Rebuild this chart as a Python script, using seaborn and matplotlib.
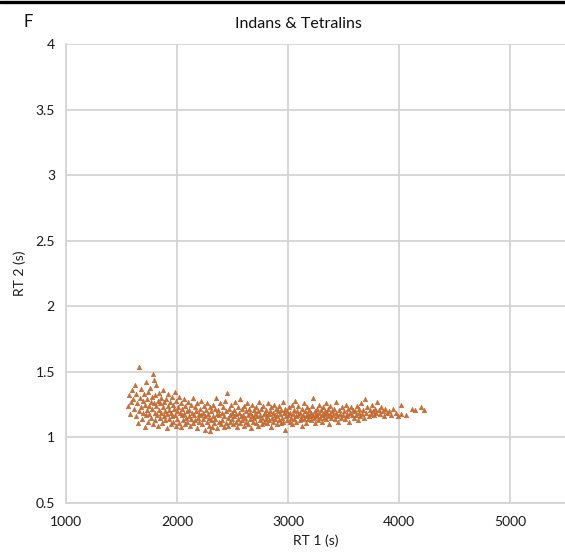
import matplotlib
matplotlib.use("Agg")
import matplotlib.pyplot as plt
from matplotlib.lines import Line2D
import seaborn as sns
import pandas as pd

title = "Indans & Tetralins"
panel_label = "F"
x_label = "RT 1 (s)"
y_label = "RT 2 (s)"
x_ticks = [1000, 2000, 3000, 4000, 5000]
y_ticks = [0.5, 1, 1.5, 2, 2.5, 3, 3.5, 4]
y_tick_labels = ["0.5", "1", "1.5", "2", "2.5", "3", "3.5", "4"]

rt1 = [
    1560, 1570, 1580, 1590, 1595,
    1605, 1612, 1620, 1628, 1635, 1642, 1650, 1655, 1660, 1665, 1672, 1678, 1684, 1690, 1695,
    1702, 1708, 1712, 1718, 1722, 1728, 1733, 1738, 1742, 1748, 1752, 1758, 1762, 1768, 1772, 1776, 1782, 1786, 1790, 1794, 1798,
    1802, 1806, 1810, 1815, 1820, 1826, 1830, 1836, 1840, 1846, 1850, 1856, 1860, 1866, 1870, 1876, 1880, 1886, 1890, 1896,
    1902, 1908, 1912, 1918, 1922, 1928, 1932, 1938, 1942, 1948, 1952, 1958, 1962, 1968, 1972, 1978, 1982, 1988, 1992, 1998,
    2004, 2010, 2016, 2020, 2026, 2032, 2038, 2042, 2048, 2054, 2060, 2066, 2070, 2076, 2082, 2088, 2094, 2098,
    2104, 2110, 2116, 2122, 2128, 2134, 2140, 2146, 2152, 2158, 2164, 2170, 2176, 2182, 2188, 2194,
    2202, 2208, 2214, 2220, 2226, 2232, 2238, 2244, 2250, 2256, 2262, 2268, 2274, 2280, 2286, 2292, 2298, 2296,
    2304, 2310, 2316, 2322, 2328, 2334, 2340, 2346, 2352, 2358, 2364, 2370, 2376, 2382, 2388, 2394,
    2402, 2408, 2414, 2420, 2426, 2432, 2438, 2444, 2450, 2456, 2462, 2468, 2474, 2480, 2486, 2492, 2498,
    2504, 2510, 2516, 2522, 2528, 2534, 2540, 2546, 2552, 2558, 2564, 2570, 2576, 2582, 2588, 2594,
    2602, 2608, 2614, 2620, 2626, 2632, 2638, 2644, 2650, 2656, 2662, 2668, 2674, 2680, 2686, 2692, 2698,
    2702, 2708, 2714, 2720, 2726, 2732, 2738, 2744, 2750, 2756, 2762, 2768, 2774, 2780, 2786, 2792, 2798,
    2802, 2808, 2814, 2820, 2826, 2832, 2838, 2844, 2850, 2856, 2862, 2868, 2874, 2880, 2886, 2892, 2898,
    2904, 2910, 2916, 2922, 2928, 2934, 2940, 2946, 2952, 2958, 2964, 2970, 2976, 2982, 2988, 2994,
    3004, 3010, 3016, 3022, 3028, 3034, 3040, 3046, 3052, 3058, 3064, 3070, 3076, 3082, 3088, 3094,
    3104, 3110, 3116, 3122, 3128, 3134, 3140, 3146, 3152, 3158, 3164, 3170, 3176, 3182, 3188, 3194,
    3204, 3210, 3216, 3222, 3228, 3234, 3240, 3246, 3252, 3258, 3264, 3270, 3276, 3282, 3288, 3294,
    3304, 3310, 3316, 3322, 3328, 3334, 3340, 3346, 3352, 3358, 3364, 3370, 3376, 3382, 3388, 3394,
    3404, 3412, 3420, 3428, 3436, 3444, 3452, 3460, 3468, 3476, 3484, 3492,
    3504, 3512, 3520, 3528, 3536, 3544, 3552, 3560, 3568, 3576, 3584, 3592,
    3604, 3612, 3620, 3628, 3636, 3644, 3652, 3660, 3668, 3676, 3684, 3692,
    3706, 3716, 3726, 3736, 3746, 3756, 3766, 3776, 3786, 3796,
    3806, 3818, 3830, 3842, 3854, 3866, 3878, 3890,
    3910, 3930, 3950, 3970, 3990,
    4015, 4022, 4060, 4115, 4145, 4195, 4222,
]

rt2 = [
    1.24, 1.32, 1.18, 1.27, 1.36,
    1.29, 1.22, 1.40, 1.16, 1.33, 1.26, 1.11, 1.20, 1.54, 1.30, 1.23, 1.37, 1.14, 1.28, 1.19,
    1.33, 1.08, 1.25, 1.42, 1.17, 1.29, 1.21, 1.12, 1.35, 1.24, 1.18, 1.38, 1.27, 1.15, 1.31, 1.22, 1.48, 1.10, 1.44, 1.26, 1.19,
    1.32, 1.13, 1.24, 1.40, 1.17, 1.28, 1.09, 1.21, 1.34, 1.15, 1.26, 1.19, 1.30, 1.11, 1.23, 1.36, 1.16, 1.27, 1.20, 1.13,
    1.29, 1.18, 1.07, 1.24, 1.33, 1.14, 1.21, 1.27, 1.10, 1.19, 1.31, 1.16, 1.25, 1.12, 1.22, 1.35, 1.17, 1.09, 1.28, 1.20,
    1.14, 1.23, 1.31, 1.11, 1.19, 1.26, 1.08, 1.17, 1.22, 1.13, 1.29, 1.18, 1.10, 1.24, 1.15, 1.20, 1.12, 1.27,
    1.16, 1.21, 1.09, 1.25, 1.14, 1.19, 1.30, 1.11, 1.17, 1.23, 1.13, 1.20, 1.07, 1.26, 1.15, 1.18,
    1.12, 1.22, 1.17, 1.28, 1.10, 1.19, 1.14, 1.24, 1.06, 1.16, 1.21, 1.12, 1.26, 1.18, 1.09, 1.15, 1.23, 1.05,
    1.13, 1.20, 1.08, 1.25, 1.16, 1.11, 1.22, 1.14, 1.30, 1.18, 1.07, 1.21, 1.12, 1.17, 1.26, 1.10,
    1.19, 1.13, 1.23, 1.08, 1.16, 1.28, 1.11, 1.20, 1.34, 1.15, 1.09, 1.22, 1.17, 1.12, 1.25, 1.14, 1.19,
    1.10, 1.21, 1.16, 1.27, 1.12, 1.18, 1.08, 1.23, 1.14, 1.19, 1.29, 1.11, 1.16, 1.22, 1.13, 1.17,
    1.24, 1.09, 1.15, 1.20, 1.12, 1.26, 1.17, 1.10, 1.22, 1.14, 1.19, 1.07, 1.25, 1.16, 1.12, 1.21, 1.15,
    1.18, 1.11, 1.23, 1.16, 1.09, 1.20, 1.27, 1.13, 1.17, 1.22, 1.10, 1.15, 1.24, 1.18, 1.12, 1.19, 1.14,
    1.21, 1.16, 1.11, 1.26, 1.18, 1.13, 1.20, 1.08, 1.23, 1.15, 1.19, 1.12, 1.25, 1.17, 1.14, 1.22, 1.10,
    1.16, 1.20, 1.13, 1.24, 1.18, 1.11, 1.21, 1.15, 1.27, 1.12, 1.19, 1.06, 1.22, 1.16, 1.13, 1.20,
    1.17, 1.23, 1.12, 1.19, 1.15, 1.25, 1.10, 1.18, 1.21, 1.14, 1.28, 1.16, 1.12, 1.20, 1.17, 1.24,
    1.13, 1.19, 1.15, 1.22, 1.09, 1.17, 1.26, 1.14, 1.20, 1.16, 1.11, 1.23, 1.18, 1.14, 1.21, 1.16,
    1.19, 1.13, 1.24, 1.17, 1.30, 1.15, 1.20, 1.11, 1.18, 1.22, 1.16, 1.13, 1.25, 1.19, 1.15, 1.21,
    1.17, 1.12, 1.23, 1.18, 1.15, 1.20, 1.26, 1.14, 1.19, 1.16, 1.22, 1.10, 1.18, 1.24, 1.15, 1.20,
    1.17, 1.22, 1.14, 1.19, 1.27, 1.16, 1.12, 1.21, 1.18, 1.15, 1.23, 1.17,
    1.20, 1.14, 1.25, 1.18, 1.16, 1.22, 1.12, 1.19, 1.23, 1.17, 1.21, 1.15,
    1.20, 1.17, 1.24, 1.13, 1.19, 1.22, 1.16, 1.26, 1.18, 1.21, 1.15, 1.29,
    1.19, 1.23, 1.16, 1.21, 1.18, 1.25, 1.20, 1.17, 1.22, 1.19,
    1.27, 1.21, 1.18, 1.23, 1.20, 1.16, 1.22, 1.19,
    1.20, 1.17, 1.22, 1.19, 1.16,
    1.25, 1.18, 1.17, 1.22, 1.21, 1.23, 1.21,
]

df = pd.DataFrame({"rt1": rt1, "rt2": rt2})

sns.set_style("white")
plt.rcParams["font.family"] = ["Lato", "DejaVu Sans"]

fig = plt.figure(figsize=(5.65, 5.52), dpi=100)
ax = fig.add_axes([66 / 565, 49 / 552, 499.5 / 565, 459 / 552])

grid_c = "#D4D4D4"
sns.scatterplot(data=df, x="rt1", y="rt2", ax=ax, marker="^", s=11,
                color="#DE6A1C", edgecolor="#A86A48", linewidth=0.35, zorder=3)

ax.set_xlim(1000, 5500)
ax.set_ylim(0.5, 4)
ax.set_xticks(x_ticks)
ax.set_yticks(y_ticks)
ax.set_yticklabels(y_tick_labels)
ax.grid(True, color=grid_c, linewidth=1.3, zorder=0)
ax.set_axisbelow(True)
for side in ["top", "right"]:
    ax.spines[side].set_visible(False)
for side in ["left", "bottom"]:
    ax.spines[side].set_color(grid_c)
    ax.spines[side].set_linewidth(1.3)
ax.tick_params(axis="both", length=0, labelsize=10, colors="#1a1a1a", pad=9)
ax.tick_params(axis="y", pad=8)
ax.set_xlabel(x_label, fontsize=10, color="#1a1a1a", labelpad=5)
ax.set_ylabel(y_label, fontsize=10, color="#1a1a1a", labelpad=7)

fig.text(298 / 565, 1 - 24 / 552, title, ha="center", va="center", fontsize=11.5, color="#111111")
fig.text(28 / 565, 1 - 22 / 552, panel_label, ha="center", va="center", fontsize=12, color="#111111")
fig.add_artist(Line2D([0, 1], [1 - 1.5 / 552, 1 - 1.5 / 552], color="black", linewidth=2.4,
                      transform=fig.transFigure))

fig.savefig("out.png", dpi=100)
